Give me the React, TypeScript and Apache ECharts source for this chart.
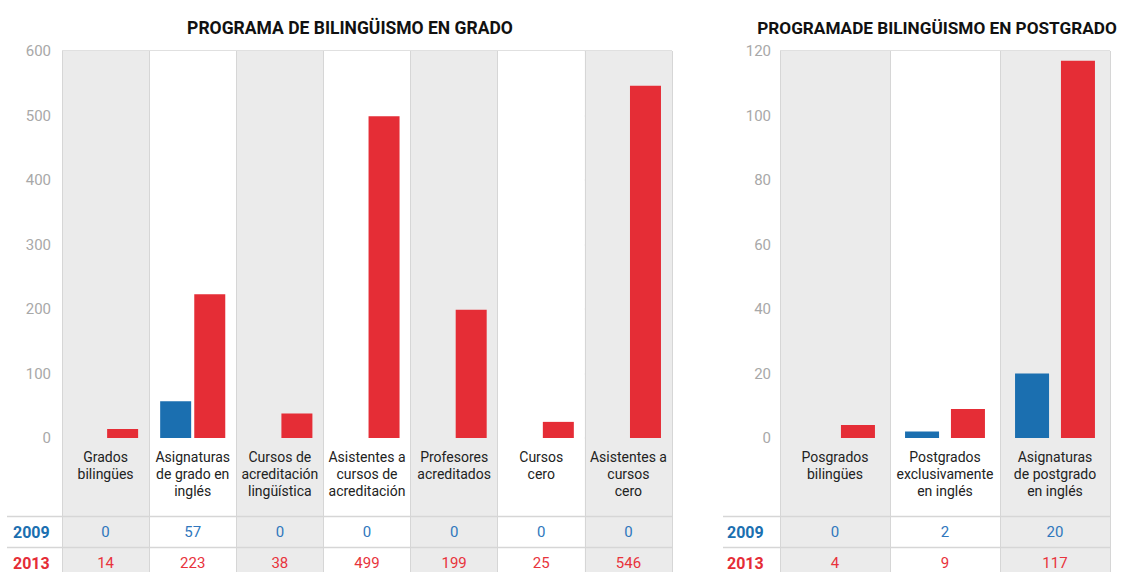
import React, { useEffect, useRef } from "react";
import * as echarts from "echarts";

const gradoTitle = "PROGRAMA DE BILINGÜISMO EN GRADO";
const postTitle = "PROGRAMADE BILINGÜISMO EN POSTGRADO";

const gradoCategories = [
  "Grados\nbilingües",
  "Asignaturas\nde grado en\ninglés",
  "Cursos de\nacreditación\nlingüística",
  "Asistentes a\ncursos de\nacreditación",
  "Profesores\nacreditados",
  "Cursos\ncero",
  "Asistentes a\ncursos\ncero",
];
const grado2009 = [0, 57, 0, 0, 0, 0, 0];
const grado2013 = [14, 223, 38, 499, 199, 25, 546];

const postCategories = [
  "Posgrados\nbilingües",
  "Postgrados\nexclusivamente\nen inglés",
  "Asignaturas\nde postgrado\nen inglés",
];
const post2009 = [0, 2, 20];
const post2013 = [4, 9, 117];

const years = ["2009", "2013"];

const BLUE = "#1b6fb0";
const RED = "#e52d36";
const BLUE_TXT = "#2f77bd";
const RED_TXT = "#e8333c";
const GRAY_BG = "#ebebeb";
const LINE = "#d6d6d6";
const FONT = "Roboto, 'Noto Sans', sans-serif";
const TITLE_FONT = "Roboto, 'Noto Sans', sans-serif";

function catAxis(gridIndex: number, data: string[]) {
  return {
    type: "category",
    gridIndex,
    data,
    position: "bottom",
    axisLine: { show: false, onZero: false },
    axisTick: { show: false },
    splitLine: { show: false },
    axisLabel: {
      interval: 0,
      margin: 10,
      fontSize: 14,
      lineHeight: 17,
      color: "#222",
      fontFamily: FONT,
    },
  };
}

function rowAxis(gridIndex: number, data: string[], values: number[], offset: number, color: string) {
  return {
    type: "category",
    gridIndex,
    data,
    position: "bottom",
    offset,
    axisLine: { show: false, onZero: false },
    axisTick: { show: false },
    splitLine: { show: false },
    axisLabel: {
      interval: 0,
      margin: 0,
      verticalAlign: "middle",
      fontSize: 15,
      color,
      fontFamily: FONT,
      formatter: (_v: string, i: number) => String(values[i]),
    },
  };
}

function bgAxis(gridIndex: number, data: string[]) {
  return {
    type: "category",
    gridIndex,
    data,
    position: "bottom",
    axisLine: { show: false, onZero: false },
    axisTick: { show: false },
    axisLabel: { show: false },
    splitLine: { show: true, lineStyle: { color: LINE, width: 1 } },
    splitArea: { show: true, areaStyle: { color: [GRAY_BG, "#ffffff"] } },
  };
}

function valAxis(gridIndex: number, max: number, interval: number, margin: number) {
  return {
    type: "value",
    gridIndex,
    min: 0,
    max,
    interval,
    axisLine: { show: false },
    axisTick: { show: false },
    splitLine: { show: true, lineStyle: { color: LINE, width: 1.5 } },
    axisLabel: { margin, fontSize: 15, color: "#a8a8a8", fontFamily: FONT },
  };
}

export default function App() {
  const ref = useRef<HTMLDivElement>(null);

  useEffect(() => {
    if (!ref.current) return;
    const chart = echarts.init(ref.current, undefined, { renderer: "svg" });

    const option = {
      animation: false,
      grid: [
        { left: 62, top: 51, width: 610, height: 387 },
        { left: 780, top: 51, width: 330, height: 387 },
        { left: 62, top: 51, width: 610, bottom: 0 },
        { left: 780, top: 51, width: 330, bottom: 0 },
      ],
      xAxis: [
        catAxis(0, gradoCategories),
        rowAxis(0, gradoCategories, grado2009, 94, BLUE_TXT),
        rowAxis(0, gradoCategories, grado2013, 125, RED_TXT),
        catAxis(1, postCategories),
        rowAxis(1, postCategories, post2009, 94, BLUE_TXT),
        rowAxis(1, postCategories, post2013, 125, RED_TXT),
        bgAxis(2, gradoCategories),
        bgAxis(3, postCategories),
      ],
      yAxis: [
        valAxis(0, 600, 100, 11),
        valAxis(1, 120, 20, 9),
        { type: "value", gridIndex: 2, show: false },
        { type: "value", gridIndex: 3, show: false },
      ],
      series: [
        {
          name: years[0],
          type: "bar",
          xAxisIndex: 0,
          yAxisIndex: 0,
          data: grado2009,
          barWidth: 31,
          barGap: "10%",
          itemStyle: { color: BLUE },
          z: 5,
        },
        {
          name: years[1],
          type: "bar",
          xAxisIndex: 0,
          yAxisIndex: 0,
          data: grado2013,
          barWidth: 31,
          barGap: "10%",
          itemStyle: { color: RED },
          z: 5,
        },
        {
          name: years[0],
          type: "bar",
          xAxisIndex: 3,
          yAxisIndex: 1,
          data: post2009,
          barWidth: 34,
          barGap: "35%",
          itemStyle: { color: BLUE },
          z: 5,
        },
        {
          name: years[1],
          type: "bar",
          xAxisIndex: 3,
          yAxisIndex: 1,
          data: post2013,
          barWidth: 34,
          barGap: "35%",
          itemStyle: { color: RED },
          z: 5,
        },
      ],
      graphic: [
        {
          type: "text",
          x: 350,
          y: 28,
          style: {
            text: gradoTitle,
            fill: "#111",
            font: `bold 17.5px ${TITLE_FONT}`,
            align: "center",
            verticalAlign: "middle",
          },
        },
        {
          type: "text",
          x: 937,
          y: 28,
          style: {
            text: postTitle,
            fill: "#111",
            font: `bold 17.2px ${TITLE_FONT}`,
            align: "center",
            verticalAlign: "middle",
          },
        },
        { type: "line", shape: { x1: 7, y1: 516.5, x2: 672, y2: 516.5 }, style: { stroke: LINE, lineWidth: 1.5 }, z: 10 },
        { type: "line", shape: { x1: 7, y1: 547.5, x2: 672, y2: 547.5 }, style: { stroke: LINE, lineWidth: 1.5 }, z: 10 },
        { type: "line", shape: { x1: 723, y1: 516.5, x2: 1110, y2: 516.5 }, style: { stroke: LINE, lineWidth: 1.5 }, z: 10 },
        { type: "line", shape: { x1: 723, y1: 547.5, x2: 1110, y2: 547.5 }, style: { stroke: LINE, lineWidth: 1.5 }, z: 10 },
        {
          type: "text",
          x: 13,
          y: 532,
          style: { text: years[0], fill: BLUE, font: `bold 16px ${FONT}`, verticalAlign: "middle" },
        },
        {
          type: "text",
          x: 13,
          y: 563,
          style: { text: years[1], fill: RED, font: `bold 16px ${FONT}`, verticalAlign: "middle" },
        },
        {
          type: "text",
          x: 727,
          y: 532,
          style: { text: years[0], fill: BLUE, font: `bold 16px ${FONT}`, verticalAlign: "middle" },
        },
        {
          type: "text",
          x: 727,
          y: 563,
          style: { text: years[1], fill: RED, font: `bold 16px ${FONT}`, verticalAlign: "middle" },
        },
      ],
    };

    chart.setOption(option as any);
    return () => chart.dispose();
  }, []);

  return (
    <div
      ref={ref}
      style={{ position: "fixed", left: 0, top: 0, width: 1130, height: 572, background: "#fff" }}
    />
  );
}
